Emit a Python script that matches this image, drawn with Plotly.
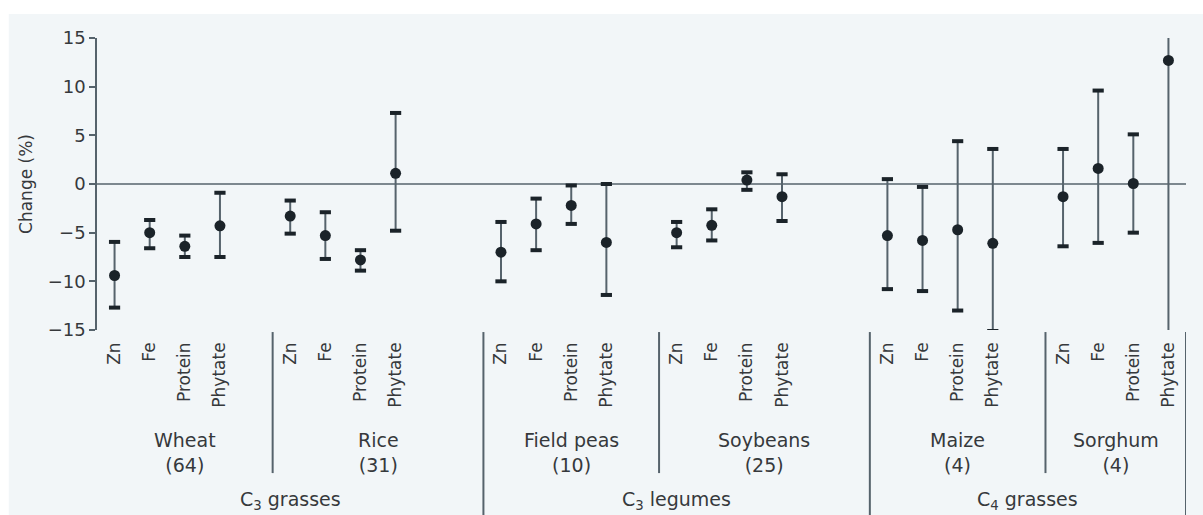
import plotly.graph_objects as go

# Nutrients measured per crop
nutrients = ["Zn", "Fe", "Protein", "Phytate"]

# Crops, number of comparisons, and the functional group each belongs to
crops = ["Wheat", "Rice", "Field peas", "Soybeans", "Maize", "Sorghum"]
n_obs = [64, 31, 10, 25, 4, 4]
groups = ["C<sub>3</sub> grasses", "C<sub>3</sub> legumes", "C<sub>4</sub> grasses"]

# Mean change (%) and 95% confidence limits, per crop in nutrient order
mean_change = {
    "Wheat":      [-9.4, -5.0, -6.4, -4.3],
    "Rice":       [-3.3, -5.3, -7.8, 1.1],
    "Field peas": [-7.0, -4.1, -2.2, -6.0],
    "Soybeans":   [-5.0, -4.25, 0.4, -1.3],
    "Maize":      [-5.3, -5.8, -4.7, -6.1],
    "Sorghum":    [-1.3, 1.6, 0.05, 12.7],
}
ci_upper = {
    "Wheat":      [-5.95, -3.7, -5.3, -0.9],
    "Rice":       [-1.7, -2.9, -6.8, 7.3],
    "Field peas": [-3.9, -1.5, -0.15, 0.0],
    "Soybeans":   [-3.9, -2.6, 1.2, 1.0],
    "Maize":      [0.5, -0.3, 4.4, 3.6],
    "Sorghum":    [3.6, 9.6, 5.1, 17.0],
}
ci_lower = {
    "Wheat":      [-12.7, -6.6, -7.5, -7.5],
    "Rice":       [-5.1, -7.7, -8.9, -4.8],
    "Field peas": [-10.0, -6.8, -4.1, -11.4],
    "Soybeans":   [-6.5, -5.8, -0.6, -3.8],
    "Maize":      [-10.8, -11.0, -13.0, -15.1],
    "Sorghum":    [-6.4, -6.05, -5.0, -17.0],
}

# Horizontal layout: slot index of each crop's first nutrient
crop_start = [0, 5, 11, 16, 22, 27]
crop_bounds = [(-0.5, 4.5), (4.5, 10.5), (10.5, 15.5), (15.5, 21.5), (21.5, 26.5), (26.5, 30.5)]
group_bounds = [(-0.5, 10.5), (10.5, 21.5), (21.5, 30.5)]
short_dividers = [4.5, 15.5, 26.5]
long_dividers = [10.5, 21.5, 30.5]

LINE = "#56636c"
DOT = "#1b2329"
TEXT = "#36393c"
FONT = "DejaVu Sans, Liberation Sans, sans-serif"

xs, ys, up, lo, labels = [], [], [], [], []
for crop, start in zip(crops, crop_start):
    for i, nut in enumerate(nutrients):
        xs.append(start + i)
        ys.append(mean_change[crop][i])
        up.append(ci_upper[crop][i])
        lo.append(ci_lower[crop][i])
        labels.append(nut)

err_plus = [u - m for u, m in zip(up, ys)]
err_minus = [m - l for m, l in zip(ys, lo)]

fig = go.Figure()

# Confidence interval whiskers
fig.add_trace(go.Scatter(
    x=xs, y=ys, mode="markers",
    marker=dict(size=1, color="rgba(0,0,0,0)"),
    error_y=dict(type="data", symmetric=False, array=err_plus, arrayminus=err_minus,
                 color=LINE, thickness=2, width=0),
    showlegend=False, hoverinfo="skip",
))
# End caps of the whiskers
fig.add_trace(go.Scatter(
    x=xs + xs, y=up + lo, mode="markers",
    marker=dict(symbol="line-ew", size=8, line=dict(width=4, color=DOT)),
    showlegend=False, hoverinfo="skip", cliponaxis=True,
))
# Mean change
fig.add_trace(go.Scatter(
    x=xs, y=ys, mode="markers",
    marker=dict(symbol="circle", size=11, color=DOT, line=dict(width=0)),
    showlegend=False,
))

shapes = []
# Page background panel
shapes.append(dict(type="rect", xref="paper", yref="paper", x0=-0.081, x1=1.03, y0=-0.7, y1=1.082,
                   fillcolor="#f2f6f8", line=dict(width=0), layer="below"))
# Zero reference line
shapes.append(dict(type="line", xref="paper", yref="y", x0=0, x1=1, y0=0, y1=0,
                   line=dict(color=LINE, width=1.6), layer="below"))
for xd in short_dividers:
    shapes.append(dict(type="line", xref="x", yref="paper", x0=xd, x1=xd, y0=-0.007, y1=-0.49,
                       line=dict(color=LINE, width=2)))
for xd in long_dividers:
    shapes.append(dict(type="line", xref="x", yref="paper", x0=xd, x1=xd, y0=-0.007, y1=-0.64,
                       line=dict(color=LINE, width=2)))

annotations = []
for crop, n, (a, b) in zip(crops, n_obs, crop_bounds):
    annotations.append(dict(x=(a + b) / 2, y=-0.418, xref="x", yref="paper",
                            text=f"{crop}<br>({n})", showarrow=False, yanchor="middle",
                            font=dict(family=FONT, size=19, color=TEXT)))
for g, (a, b) in zip(groups, group_bounds):
    annotations.append(dict(x=(a + b) / 2, y=-0.585, xref="x", yref="paper",
                            text=g, showarrow=False, yanchor="middle",
                            font=dict(family=FONT, size=19, color=TEXT)))

fig.update_layout(
    width=1203, height=515,
    margin=dict(l=97, r=17, t=38, b=185),
    paper_bgcolor="white",
    plot_bgcolor="rgba(0,0,0,0)",
    font=dict(family=FONT, color=TEXT),
    shapes=shapes,
    annotations=annotations,
    xaxis=dict(
        range=[-0.5, 30.5], tickmode="array", tickvals=xs, ticktext=labels,
        tickangle=-90, ticks="", showgrid=False, zeroline=False, showline=False,
        tickfont=dict(family=FONT, size=17, color=TEXT), ticklabelstandoff=8,
    ),
    yaxis=dict(
        range=[-15, 15], tickvals=[-15, -10, -5, 0, 5, 10, 15],
        ticks="outside", ticklen=6, tickwidth=1.5, tickcolor=LINE,
        showline=True, linecolor=LINE, linewidth=1.5,
        showgrid=False, zeroline=False,
        tickfont=dict(family=FONT, size=18, color=TEXT),
        title=dict(text="Change (%)", font=dict(family=FONT, size=17, color=TEXT), standoff=11),
    ),
)

fig.write_html("out.html")
